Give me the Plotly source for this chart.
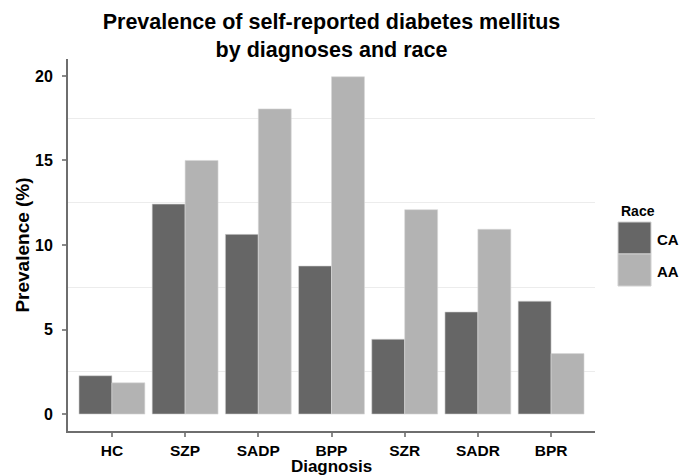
import plotly.graph_objects as go

# ---- data ----
diagnoses = ["HC", "SZP", "SADP", "BPP", "SZR", "SADR", "BPR"]
races = ["CA", "AA"]
prev_ca = [2.27, 12.42, 10.63, 8.76, 4.43, 6.04, 6.68]
prev_aa = [1.85, 15.0, 18.05, 19.95, 12.09, 10.93, 3.58]
y_ticks = [0, 5, 10, 15, 20]
y_minor = [2.5, 7.5, 12.5, 17.5]

colors = {"CA": "#666666", "AA": "#b3b3b3"}
values = {"CA": prev_ca, "AA": prev_aa}

FONT = "Liberation Sans, Arial, Helvetica, sans-serif"

# page body adds an 8px offset; size the figure so it ends at the window edge
OFF = 8
FIG_W, FIG_H = 691 - OFF, 476 - OFF
W_L, W_R, H_T, H_B = 68 - OFF, 96, 59 - OFF, 45
PW = FIG_W - W_L - W_R
PH = FIG_H - H_T - H_B

fig = go.Figure()
for r in races:
    fig.add_trace(go.Bar(
        x=diagnoses, y=values[r], name=r,
        marker=dict(color=colors[r], line=dict(color="#d6d6d6", width=0.6)),
        showlegend=False,
    ))


# custom legend (large keys like ggplot); positions given in window pixels
def px_x(p):
    return (p - OFF - W_L) / PW


def px_y(p):
    return (FIG_H - H_B - (p - OFF)) / PH


fig.add_annotation(text="<b>Race</b>", x=px_x(619), y=px_y(211), xref="paper", yref="paper",
                   xanchor="left", yanchor="middle", showarrow=False,
                   font=dict(family=FONT, size=14, color="#000000"))
key_top = 222
key_h = 32
for i, r in enumerate(races):
    t = key_top + i * key_h
    fig.add_shape(type="rect", xref="paper", yref="paper",
                  x0=px_x(618), x1=px_x(651), y0=px_y(t), y1=px_y(t + key_h),
                  fillcolor=colors[r], line=dict(color="#d0d0d0", width=1))
    fig.add_annotation(text=f"<b>{r}</b>", x=px_x(655), y=px_y(t + key_h / 2 + 1),
                       xref="paper", yref="paper", xanchor="left", yanchor="middle",
                       showarrow=False, font=dict(family=FONT, size=15, color="#000000"))

fig.update_layout(
    width=FIG_W, height=FIG_H,
    template="none",
    barmode="group", bargap=0.1, bargroupgap=0,
    paper_bgcolor="white", plot_bgcolor="white",
    margin=dict(l=W_L, r=W_R, t=H_T, b=H_B, autoexpand=False),
    font=dict(family=FONT, color="#000000"),
    title=dict(
        text="<b>Prevalence of self-reported diabetes mellitus<br>by diagnoses and race</b>",
        x=0.5, xref="paper", xanchor="center",
        y=1 - 21 / FIG_H, yref="container", yanchor="top",
        font=dict(family=FONT, size=21.5, color="#000000"),
    ),
    xaxis=dict(
        type="category", range=[-0.6, 6.6],
        showline=True, linecolor="#6e6e6e", linewidth=2,
        ticks="outside", ticklen=4, tickwidth=1.5, tickcolor="#8a8a8a",
        showgrid=False, zeroline=False, automargin=False,
        tickfont=dict(family=FONT, size=15.5, color="#000000", weight="bold"),
        title=dict(text="<b>Diagnosis</b>", standoff=2,
                   font=dict(family=FONT, size=17, color="#000000")),
    ),
    yaxis=dict(
        range=[-1, 21], tickvals=y_ticks,
        showline=True, linecolor="#6e6e6e", linewidth=2,
        ticks="outside", ticklen=4, tickwidth=1.5, tickcolor="#8a8a8a",
        ticklabelstandoff=6,
        showgrid=False, zeroline=False, automargin=False,
        minor=dict(tickvals=y_minor, showgrid=True, gridcolor="#ececec", gridwidth=1, ticks=""),
        tickfont=dict(family=FONT, size=16, color="#000000", weight="bold"),
        title=dict(text="<b>Prevalence (%)</b>", standoff=0,
                   font=dict(family=FONT, size=19, color="#000000")),
    ),
)

fig.write_html("out.html")
